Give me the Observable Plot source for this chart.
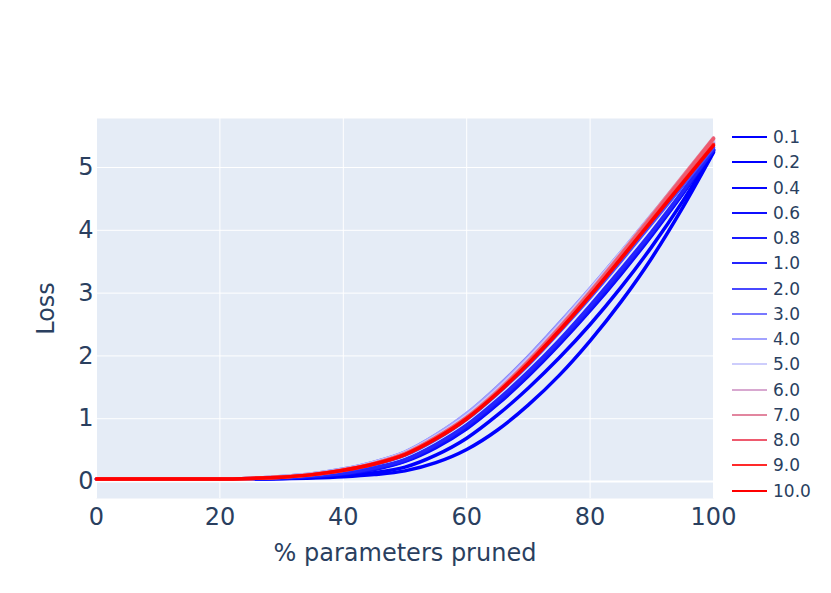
<!DOCTYPE html>
<html>
<head>
<meta charset="utf-8">
<script src="https://cdn.jsdelivr.net/npm/d3@7"></script>
<script src="https://cdn.jsdelivr.net/npm/@observablehq/plot@0.6"></script>
<style>
  body { margin: 0; background: white; }
  #wrap { position: relative; width: 831px; height: 593px; font-family: "DejaVu Sans", sans-serif; color: #2a3f5f; }
  #legend { position: absolute; left: 0; top: 0; width: 831px; height: 593px; pointer-events: none; }
  .lg-line { position: absolute; height: 2px; width: 35px; left: 732px; }
  .lg-text { position: absolute; left: 773px; font-size: 17px; line-height: 20px; height: 20px; color: #2a3f5f; white-space: nowrap; }
</style>
</head>
<body>
<div id="wrap"><div id="chart"></div><div id="legend"></div></div>
<script>
// x positions (% parameters pruned)
const xs = [0, 10, 20, 25, 30, 35, 40, 45, 50, 55, 60, 65, 70, 75, 80, 85, 90, 95, 100];

// series labels and colours
const seriesNames = ["0.1", "0.2", "0.4", "0.6", "0.8", "1.0", "2.0", "3.0", "4.0", "5.0", "6.0", "7.0", "8.0", "9.0", "10.0"];
const seriesColors = ["#0000ff", "#0000ff", "#0606ff", "#0f0fff", "#1a1aff", "#2424ff", "#4848ff", "#7878ff", "#a2a2ff", "#cdcdfc", "#d8a8d0", "#e2869f", "#ee5a6e", "#ff2a2a", "#ff0000"];

// loss values per series
const s0_1  = [0.04,0.04,0.04,0.04,0.045,0.055,0.075,0.11,0.17,0.30,0.51,0.82,1.22,1.69,2.24,2.86,3.56,4.36,5.24];
const s0_2  = [0.04,0.04,0.04,0.045,0.05,0.065,0.09,0.14,0.23,0.42,0.69,1.06,1.49,1.97,2.50,3.09,3.74,4.46,5.26];
const s0_4  = [0.04,0.04,0.04,0.045,0.055,0.08,0.12,0.19,0.32,0.54,0.84,1.23,1.68,2.18,2.72,3.30,3.92,4.58,5.27];
const s0_6  = [0.04,0.04,0.04,0.045,0.055,0.08,0.12,0.20,0.33,0.56,0.86,1.25,1.70,2.20,2.74,3.32,3.94,4.59,5.28];
const s0_8  = [0.04,0.04,0.04,0.045,0.06,0.085,0.13,0.21,0.34,0.58,0.89,1.28,1.73,2.23,2.77,3.35,3.96,4.61,5.28];
const s1_0  = [0.04,0.04,0.04,0.045,0.06,0.09,0.13,0.22,0.35,0.59,0.90,1.30,1.75,2.25,2.80,3.38,3.98,4.62,5.29];
const s2_0  = [0.04,0.04,0.04,0.05,0.07,0.105,0.17,0.27,0.42,0.67,0.99,1.40,1.86,2.38,2.93,3.51,4.11,4.71,5.32];
const s3_0  = [0.04,0.04,0.04,0.05,0.08,0.125,0.20,0.31,0.47,0.74,1.08,1.51,1.99,2.52,3.07,3.65,4.24,4.82,5.39];
const s4_0  = [0.04,0.04,0.04,0.05,0.08,0.125,0.20,0.31,0.47,0.74,1.08,1.50,1.98,2.51,3.07,3.65,4.25,4.83,5.41];
const s5_0  = [0.04,0.04,0.04,0.05,0.075,0.12,0.19,0.30,0.46,0.72,1.05,1.47,1.95,2.48,3.05,3.64,4.24,4.84,5.43];
const s6_0  = [0.04,0.04,0.04,0.05,0.075,0.115,0.19,0.29,0.45,0.71,1.03,1.45,1.93,2.46,3.03,3.63,4.24,4.85,5.45];
const s7_0  = [0.04,0.04,0.04,0.05,0.075,0.115,0.19,0.29,0.45,0.70,1.02,1.44,1.92,2.45,3.02,3.62,4.24,4.86,5.47];
const s8_0  = [0.04,0.04,0.04,0.05,0.07,0.11,0.18,0.29,0.44,0.70,1.02,1.43,1.91,2.44,3.01,3.61,4.22,4.84,5.46];
const s9_0  = [0.04,0.04,0.04,0.05,0.07,0.11,0.18,0.28,0.43,0.68,1.00,1.41,1.88,2.40,2.96,3.55,4.16,4.76,5.37];
const s10_0 = [0.04,0.04,0.04,0.05,0.07,0.11,0.18,0.28,0.43,0.68,1.00,1.41,1.88,2.40,2.96,3.55,4.15,4.75,5.35];

// axis ticks
const xTicks = [0, 20, 40, 60, 80, 100];
const yTicks = [0, 1, 2, 3, 4, 5];

const seriesValues = [s0_1, s0_2, s0_4, s0_6, s0_8, s1_0, s2_0, s3_0, s4_0, s5_0, s6_0, s7_0, s8_0, s9_0, s10_0];

const data = [];
seriesNames.forEach((name, i) => {
  xs.forEach((x, j) => data.push({s: name, x, y: seriesValues[i][j]}));
});

const chart = Plot.plot({
  width: 831,
  height: 593,
  marginLeft: 96,
  marginRight: 118,
  marginTop: 118,
  marginBottom: 95,
  style: {fontFamily: "DejaVu Sans, sans-serif", fontSize: "24px", color: "#2a3f5f", background: "white"},
  x: {domain: [0, 100], ticks: xTicks, tickFormat: d => String(d), tickSize: 0, tickPadding: 9, label: "% parameters pruned", labelAnchor: "center", labelOffset: 62, labelArrow: "none"},
  y: {domain: [-0.27, 5.78], ticks: yTicks, tickFormat: d => String(d), tickSize: 0, tickPadding: 3, label: "Loss", labelAnchor: "center", labelOffset: 60, labelArrow: "none"},
  color: {domain: seriesNames, range: seriesColors},
  marks: [
    Plot.frame({fill: "#e5ecf6", stroke: "none"}),
    Plot.gridX(xTicks, {stroke: "white", strokeOpacity: 1, strokeWidth: 1}),
    Plot.gridY(yTicks, {stroke: "white", strokeOpacity: 1, strokeWidth: 1}),
    Plot.ruleY([0], {stroke: "white", strokeWidth: 2}),
    Plot.line(data, {x: "x", y: "y", z: "s", stroke: "s", strokeWidth: 3.5, curve: "monotone-x"})
  ]
});
document.getElementById("chart").appendChild(chart);

// legend
const legend = d3.select("#legend");
seriesNames.forEach((name, i) => {
  const cy = Math.round(137 + i * 25.25);
  legend.append("div").attr("class", "lg-line")
    .style("top", (cy - 1) + "px").style("background", seriesColors[i]);
  legend.append("div").attr("class", "lg-text")
    .style("top", (cy - 10) + "px").text(name);
});
</script>
</body>
</html>
